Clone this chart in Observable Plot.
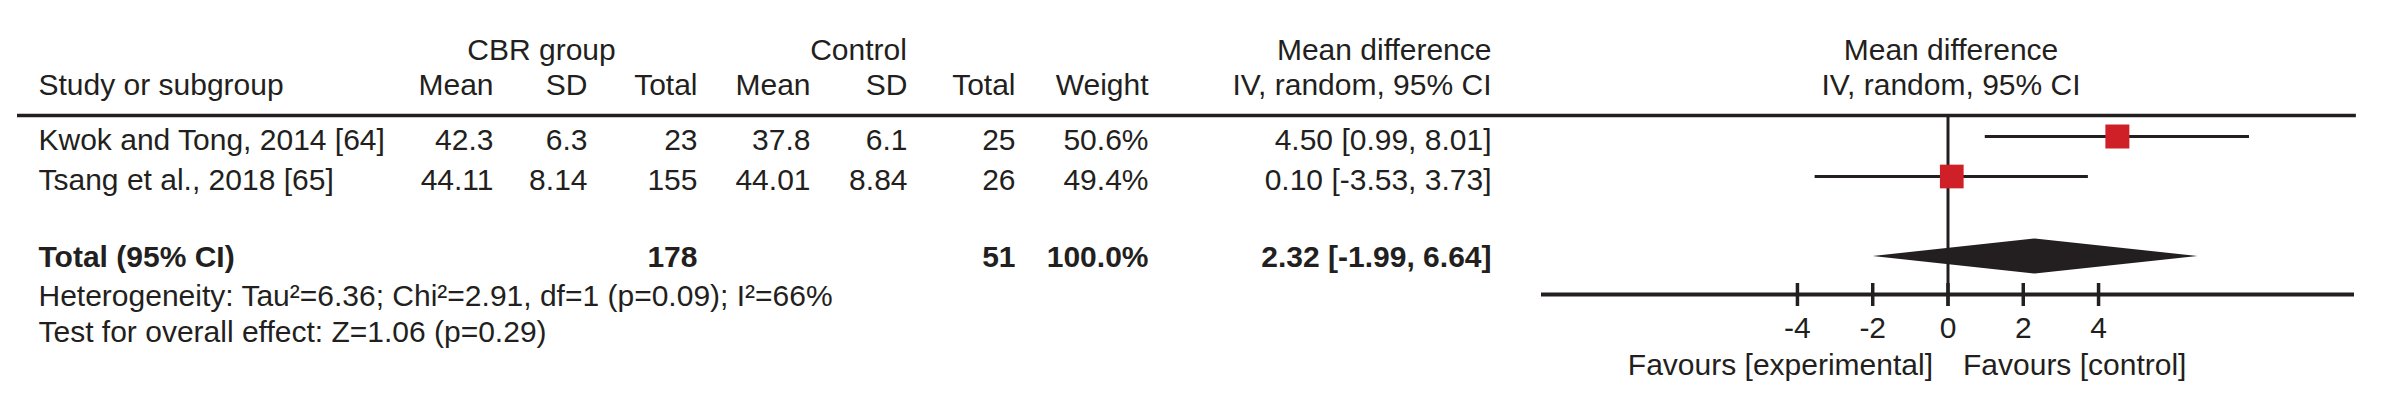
<!DOCTYPE html>
<html><head><meta charset="utf-8">
<script src="https://cdn.jsdelivr.net/npm/d3@7"></script>
<script src="https://cdn.jsdelivr.net/npm/@observablehq/plot@0.6"></script>
<style>
html,body{margin:0;padding:0;background:#fff;}
#chart{position:relative;width:2388px;height:405px;display:flex;}
#chart svg{display:block;flex:none;}
</style></head><body><div id="chart"></div>
<script>
// ---------------- data ----------------
const studies   = ["Kwok and Tong, 2014 [64]", "Tsang et al., 2018 [65]"];
const cbrMean   = ["42.3", "44.11"];
const cbrSD     = ["6.3", "8.14"];
const cbrTotal  = [23, 155];
const ctlMean   = ["37.8", "44.01"];
const ctlSD     = ["6.1", "8.84"];
const ctlTotal  = [25, 26];
const weights   = [50.6, 49.4];
const mdEst     = [4.50, 0.10];
const mdLow     = [0.99, -3.53];
const mdHigh    = [8.01, 3.73];
const totalLabel = "Total (95% CI)";
const totalCbr  = 178;
const totalCtl  = 51;
const totalWeight = 100.0;
const totalEst  = 2.32;
const totalLow  = -1.99;
const totalHigh = 6.64;
const hetText   = "Heterogeneity: Tau\u00b2=6.36; Chi\u00b2=2.91, df=1 (p=0.09); I\u00b2=66%";
const testText  = "Test for overall effect: Z=1.06 (p=0.29)";
const axisTicks = [-4, -2, 0, 2, 4];
const axisExtent = [-10.8, 10.8];
const favoursLeft  = "Favours [experimental]";
const favoursRight = "Favours [control]";
const headers = {
  study: "Study or subgroup", group1: "CBR group", group2: "Control",
  mean: "Mean", sd: "SD", total: "Total", weight: "Weight",
  md1: "Mean difference", md2: "IV, random, 95% CI"
};

// ---------------- layout & style ----------------
const INK = "#231f20", RED = "#cf2027";
const FONT = '"Liberation Sans", Arial, Helvetica, sans-serif';
const FS = 30;
const W = 2388, H = 405, SPLIT = 1530;
const Y = {domain: [-3.4, 6.725], range: [0, H]};      // row units (1 row = 40px)
const rows = {
  hdr1: -2.16, hdr2: -1.29, textDrop: 0.085,
  study: [0, 1], total: 3, het: 4.0, test: 4.885,
  topLine: -0.525, axis: 3.95, zeroTop: -0.55, zeroBottom: 4.25,
  tickTop: 3.675, tickBottom: 4.25, tickLabel: 4.785, favours: 5.71,
  diamondHalf: 0.44
};
const cols = {
  lineStart: 17, study: 38, cbrMean: 493, cbrSD: 587, cbrTotal: 697,
  ctlMean: 810, ctlSD: 907, ctlTotal: 1015, weight: 1148, md: 1491,
  group1: 541, group2: 858
};
const forestRange = [11, 824];   // pixel range of axisExtent inside the forest panel

const fmtCI = (e, l, h) => `${e.toFixed(2)} [${l.toFixed(2)}, ${h.toFixed(2)}]`;
const fmtW = w => `${w.toFixed(1)}%`;

// ---------------- table panel ----------------
const cells = [];
const cell = (col, y, text, anchor = "end", bold = false) =>
  cells.push({x: cols[col], y, text: String(text), anchor, bold});

cell("study", rows.hdr2, headers.study, "start");
cell("group1", rows.hdr1, headers.group1, "middle");
cell("group2", rows.hdr1, headers.group2, "middle");
cell("cbrMean", rows.hdr2, headers.mean);
cell("cbrSD", rows.hdr2, headers.sd);
cell("cbrTotal", rows.hdr2, headers.total);
cell("ctlMean", rows.hdr2, headers.mean);
cell("ctlSD", rows.hdr2, headers.sd);
cell("ctlTotal", rows.hdr2, headers.total);
cell("weight", rows.hdr2, headers.weight);
cell("md", rows.hdr1, headers.md1);
cell("md", rows.hdr2, headers.md2);
studies.forEach((s, i) => {
  const y = rows.study[i] + rows.textDrop;
  cell("study", y, s, "start");
  cell("cbrMean", y, cbrMean[i]);
  cell("cbrSD", y, cbrSD[i]);
  cell("cbrTotal", y, cbrTotal[i]);
  cell("ctlMean", y, ctlMean[i]);
  cell("ctlSD", y, ctlSD[i]);
  cell("ctlTotal", y, ctlTotal[i]);
  cell("weight", y, fmtW(weights[i]));
  cell("md", y, fmtCI(mdEst[i], mdLow[i], mdHigh[i]));
});
const ty = rows.total + 0.01;
cell("study", ty, totalLabel, "start", true);
cell("cbrTotal", ty, totalCbr, "end", true);
cell("ctlTotal", ty, totalCtl, "end", true);
cell("weight", ty, fmtW(totalWeight), "end", true);
cell("md", ty, fmtCI(totalEst, totalLow, totalHigh), "end", true);
cell("study", rows.het, hetText, "start");
cell("study", rows.test, testText, "start");

const textMarks = [];
for (const anchor of ["start", "middle", "end"]) {
  for (const bold of [false, true]) {
    const sub = cells.filter(c => c.anchor === anchor && c.bold === bold);
    if (!sub.length) continue;
    textMarks.push(Plot.text(sub, {
      x: "x", y: "y", text: "text", textAnchor: anchor, lineAnchor: "middle",
      fontSize: FS, fontWeight: bold ? "bold" : "normal", fill: INK
    }));
  }
}

const tablePlot = Plot.plot({
  width: SPLIT, height: H,
  marginTop: 0, marginRight: 0, marginBottom: 0, marginLeft: 0,
  style: {fontFamily: FONT, fontSize: FS + "px", background: "#fff", color: INK},
  x: {type: "linear", domain: [0, SPLIT], range: [0, SPLIT], axis: null},
  y: {type: "linear", ...Y, axis: null},
  marks: [
    Plot.ruleY([rows.topLine], {x1: cols.lineStart, x2: SPLIT, stroke: INK, strokeWidth: 3.5}),
    ...textMarks
  ]
});

// ---------------- forest panel ----------------
const studyData = studies.map((s, i) => ({
  s, est: mdEst[i], lo: mdLow[i], hi: mdHigh[i], w: weights[i], y: rows.study[i]
}));
const diamond = [
  {x: totalLow,  y1: rows.total, y2: rows.total},
  {x: totalEst,  y1: rows.total - rows.diamondHalf, y2: rows.total + rows.diamondHalf},
  {x: totalHigh, y1: rows.total, y2: rows.total}
];
const unit = (forestRange[1] - forestRange[0]) / (axisExtent[1] - axisExtent[0]);
const xLeftEdge = axisExtent[0] - forestRange[0] / unit;

const forestPlot = Plot.plot({
  width: W - SPLIT, height: H,
  marginTop: 0, marginRight: 0, marginBottom: 0, marginLeft: 0,
  style: {fontFamily: FONT, fontSize: FS + "px", background: "#fff", color: INK},
  x: {type: "linear", domain: axisExtent, range: forestRange, axis: null},
  y: {type: "linear", ...Y, axis: null},
  r: {type: "sqrt", domain: [0, d3.max(weights)], range: [0, 13.54]},
  marks: [
    Plot.ruleY([rows.topLine], {x1: xLeftEdge - 1, x2: 10.85, stroke: INK, strokeWidth: 3.5}),
    Plot.ruleX([0], {y1: rows.zeroTop, y2: rows.zeroBottom, stroke: INK, strokeWidth: 3}),
    Plot.ruleY(studyData, {y: "y", x1: "lo", x2: "hi", stroke: INK, strokeWidth: 3.2}),
    Plot.dot(studyData, {x: "est", y: "y", r: "w", symbol: "square", fill: RED, stroke: null}),
    Plot.areaY(diamond, {x: "x", y1: "y1", y2: "y2", fill: INK, curve: "linear"}),
    Plot.ruleY([rows.axis], {x1: axisExtent[0], x2: axisExtent[1], stroke: INK, strokeWidth: 4}),
    Plot.ruleX(axisTicks, {x: d => d, y1: rows.tickTop, y2: rows.tickBottom, stroke: INK, strokeWidth: 3.5}),
    Plot.text(axisTicks, {x: d => d, y: rows.tickLabel, text: d => String(d), fontSize: FS, fill: INK, lineAnchor: "middle"}),
    Plot.text([favoursLeft], {x: 0, y: rows.favours, text: d => d, textAnchor: "end", dx: -15, fontSize: FS, fill: INK, lineAnchor: "middle"}),
    Plot.text([favoursRight], {x: 0, y: rows.favours, text: d => d, textAnchor: "start", dx: 15, fontSize: FS, fill: INK, lineAnchor: "middle"}),
    Plot.text([headers.md1], {x: 0, y: rows.hdr1, text: d => d, dx: 3, fontSize: FS, fill: INK, lineAnchor: "middle"}),
    Plot.text([headers.md2], {x: 0, y: rows.hdr2, text: d => d, dx: 3, fontSize: FS, fill: INK, lineAnchor: "middle"})
  ]
});

const chart = document.getElementById("chart");
chart.append(tablePlot, forestPlot);
</script>
</body></html>
